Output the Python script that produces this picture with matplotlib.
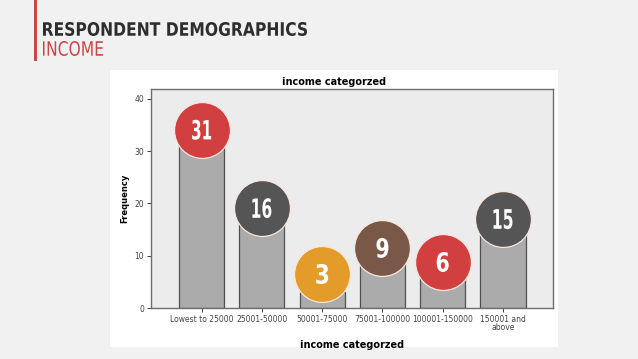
import numpy as np
import matplotlib.pyplot as plt
from matplotlib.patches import Rectangle, PathPatch
from matplotlib.textpath import TextPath
from matplotlib.font_manager import FontProperties
from matplotlib.transforms import Affine2D, ScaledTranslation

categories = ["Lowest to 25000", "25001-50000", "50001-75000", "75001-100000",
              "100001-150000", "150001 and\nabove"]
frequency = [31, 16, 3, 9, 6, 15]
badge_colors = ["#d23f41", "#555555", "#e39b2a", "#7a5848", "#d23f41", "#555555"]
badge_lift = [3.1, 3.1, 3.5, 2.5, 2.8, 2.0]

W, H = 638, 359
fig = plt.figure(figsize=(W / 100, H / 100), dpi=100)
fig.patch.set_facecolor("#f1f1f1")
px = Affine2D().scale(1 / W, 1 / H) + fig.transFigure


def boxed_path(s, weight, width_px, height_px):
    # text as a path squeezed into a box (no condensed font installed)
    tp = TextPath((0, 0), s, size=100, prop=FontProperties(family="DejaVu Sans", weight=weight))
    ext = tp.get_extents()
    tr = Affine2D().translate(-ext.x0, -ext.y0).scale(width_px / ext.width, height_px / ext.height)
    return tp, tr


def header_text(s, x0, top, cap_px, width_px, weight, color):
    tp, tr = boxed_path(s, weight, width_px, cap_px)
    tr = tr.translate(x0, H - top - cap_px)
    fig.add_artist(PathPatch(tp, transform=tr + px, color=color, lw=0))


# slide header
fig.add_artist(Rectangle((34, H - 61), 3, 61, transform=px, color="#c9474a", lw=0))
header_text("RESPONDENT DEMOGRAPHICS", 43, 22, 14, 264, "bold", "#2e2e2e")
header_text("INCOME", 43, 41, 15, 60, "normal", "#c9474a")

# white panel holding the chart
fig.add_artist(Rectangle((110, H - 347), 448, 277, transform=px, color="white",
                         lw=0, zorder=-1))

ax = fig.add_axes([151 / W, 51 / H, 402 / W, 219 / H])
ax.set_facecolor("#ececec")
x = np.arange(len(categories))
ax.bar(x, frequency, width=0.75, color="#ababab", edgecolor="#505050", linewidth=0.9)
ax.set_xlim(-0.84, 5.83)
ax.set_ylim(0, 41.9)
ax.set_yticks([0, 10, 20, 30, 40])
ax.set_xticks(x)
ax.set_xticklabels(categories, fontsize=5.5, linespacing=0.8)
ax.tick_params(axis="both", labelsize=5.5, length=3, width=0.7, colors="#444444", pad=2)
for s in ax.spines.values():
    s.set_color("#6e6e6e")
    s.set_linewidth(1.0)
ax.set_title("income categorzed", fontsize=7, weight="bold", pad=3, x=0.455)
ax.set_xlabel("income categorzed", fontsize=7, weight="bold", labelpad=6)
ax.set_ylabel("Frequency", fontsize=6, weight="bold", labelpad=4)

for xi, v, c, lift in zip(x, frequency, badge_colors, badge_lift):
    yc = v + lift
    ax.scatter([xi], [yc], s=1620, color=c, edgecolor="#f6e6dc",
               linewidth=0.9, zorder=5, clip_on=False)
    wpx = 19 if v >= 10 else 12
    tp, tr = boxed_path(str(v), "bold", wpx, 20)
    tr = tr.translate(-wpx / 2, -10) + ScaledTranslation(xi, yc, ax.transData)
    ax.add_patch(PathPatch(tp, transform=tr, color="white", lw=0, zorder=6))

fig.savefig("out.png", dpi=100, facecolor=fig.get_facecolor())
